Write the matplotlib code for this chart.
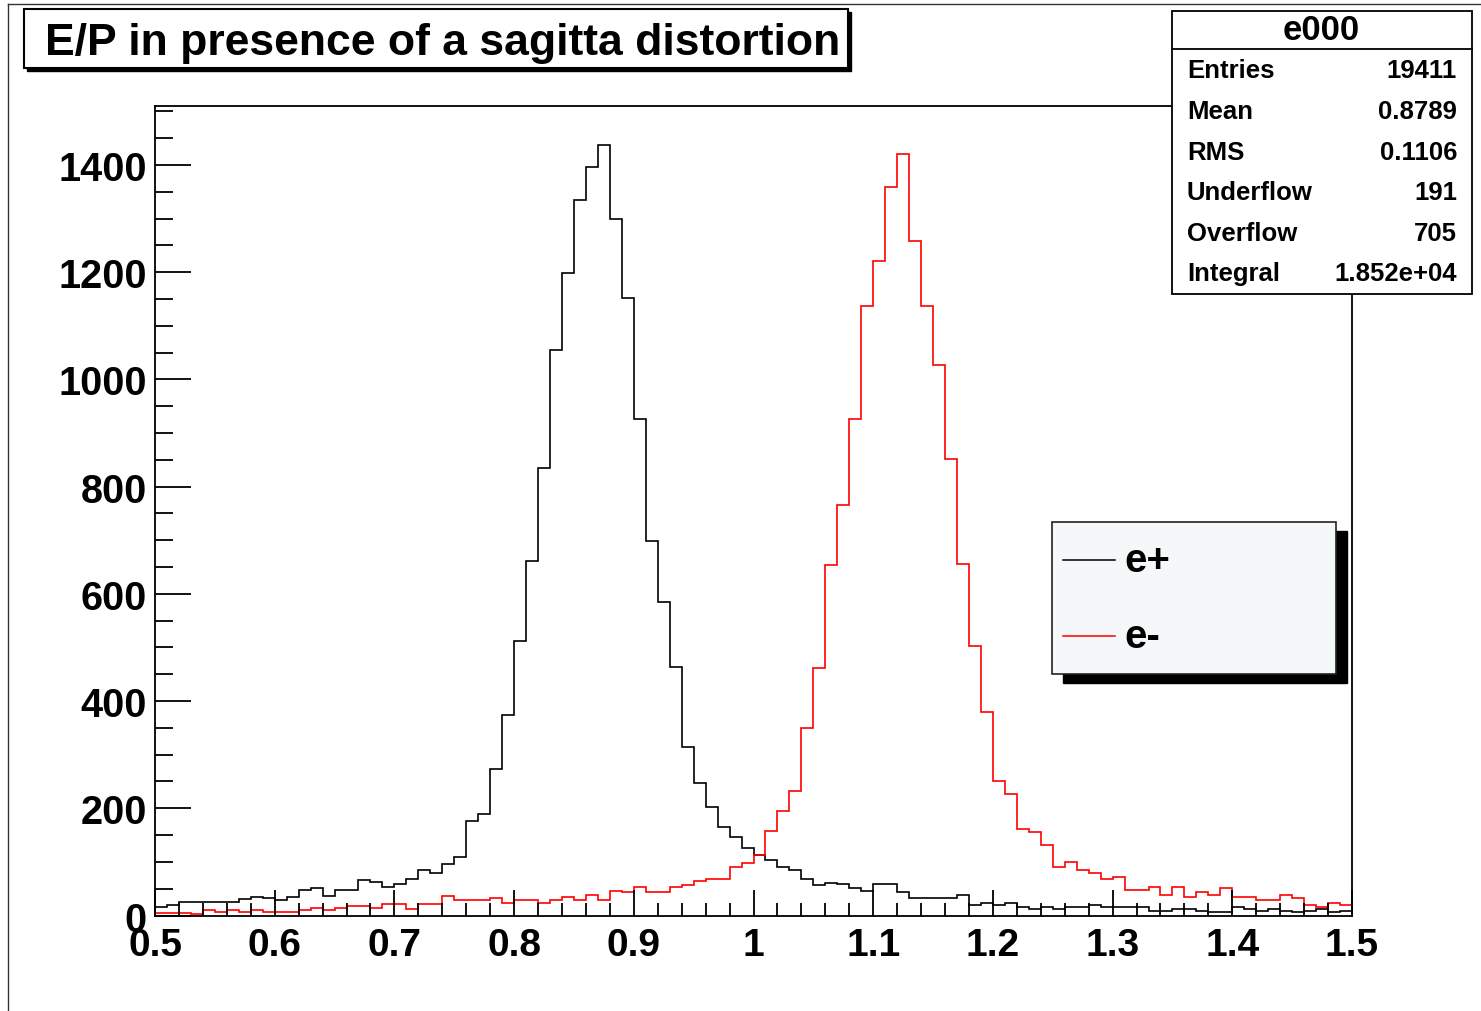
import numpy as np
import matplotlib.pyplot as plt
from matplotlib.patches import Rectangle
from matplotlib.lines import Line2D
from matplotlib.ticker import MultipleLocator, FuncFormatter

# E/P histogram, 100 bins from 0.5 to 1.5
bin_lo, bin_hi, n_bins = 0.5, 1.5, 100

e_plus = [
    16, 20, 25, 25, 25, 25, 25, 31, 35, 32,
    28, 35, 47, 51, 36, 47, 47, 66, 62, 54,
    58, 69, 84, 80, 96, 110, 177, 189, 274, 374,
    512, 662, 834, 1054, 1199, 1334, 1397, 1438, 1300, 1151,
    927, 699, 584, 464, 315, 248, 203, 166, 147, 125,
    113, 104, 91, 85, 69, 57, 61, 59, 51, 46,
    59, 59, 43, 32, 32, 32, 33, 39, 20, 24,
    20, 24, 16, 13, 16, 13, 16, 16, 20, 16,
    16, 16, 16, 9, 9, 13, 13, 9, 6, 6,
    16, 13, 9, 13, 9, 6, 9, 13, 6, 9,
]

e_minus = [
    5, 5, 5, 2, 10, 6, 10, 6, 10, 6,
    6, 6, 10, 14, 10, 14, 17, 17, 14, 21,
    21, 13, 21, 21, 36, 28, 28, 28, 32, 24,
    28, 28, 24, 28, 35, 28, 39, 28, 46, 43,
    54, 43, 43, 54, 57, 65, 69, 69, 91, 98,
    113, 158, 195, 233, 349, 461, 654, 766, 927, 1136,
    1221, 1359, 1420, 1259, 1137, 1027, 852, 655, 502, 379,
    250, 226, 162, 156, 132, 91, 99, 85, 80, 69,
    72, 47, 47, 54, 39, 54, 35, 43, 39, 51,
    35, 35, 28, 28, 39, 33, 20, 16, 24, 20,
]

legend_labels = ["e+", "e-"]
hist_colors = ["black", "#ff0000"]

stats_title = "e000"
stats_names = ["Entries", "Mean", "RMS", "Underflow", "Overflow", "Integral"]
stats_values = ["19411", "0.8789", "0.1106", "191", "705", "1.852e+04"]

title = "E/P in presence of a sagitta distortion"

W, H = 1481, 1012
FONT = "Liberation Sans"


def fx(x):
    return x / W


def fy(y):
    return 1 - y / H


fig = plt.figure(figsize=(W / 100, H / 100), dpi=100)
fig.patch.set_facecolor("white")

# canvas border lines
fig.add_artist(Line2D([fx(8), fx(8)], [fy(5), fy(1012)], color="#333333", lw=1))
fig.add_artist(Line2D([fx(8), fx(1481)], [fy(5), fy(5)], color="#333333", lw=1))

ax = fig.add_axes([fx(155), fy(916.5), fx(1352) - fx(155), fy(107) - fy(916.5)])

edges = np.linspace(bin_lo, bin_hi, n_bins + 1)
for vals, col in zip([e_plus, e_minus], hist_colors):
    ax.stairs(vals, edges, color=col, linewidth=1.2, baseline=None)

ax.set_xlim(bin_lo, bin_hi)
ax.set_ylim(0, 1.05 * max(max(e_plus), max(e_minus)))

for s in ax.spines.values():
    s.set_linewidth(1.3)

ax.xaxis.set_major_locator(MultipleLocator(0.1))
ax.xaxis.set_minor_locator(MultipleLocator(0.02))
ax.yaxis.set_major_locator(MultipleLocator(200))
ax.yaxis.set_minor_locator(MultipleLocator(50))
ax.xaxis.set_major_formatter(FuncFormatter(lambda v, p: "%g" % round(v, 2)))
ax.yaxis.set_major_formatter(FuncFormatter(lambda v, p: "%d" % v))

ax.tick_params(axis="x", which="major", direction="in", length=19, width=1.3,
               pad=8, labelsize=28)
ax.tick_params(axis="x", which="minor", direction="in", length=9.5, width=1.3)
ax.tick_params(axis="y", which="major", direction="in", length=26, width=1.3,
               pad=6, labelsize=28.5)
ax.tick_params(axis="y", which="minor", direction="in", length=13, width=1.3)
for lab in ax.get_xticklabels() + ax.get_yticklabels():
    lab.set_fontfamily(FONT)
    lab.set_fontweight("bold")

# title box with shadow
fig.add_artist(Rectangle((fx(27), fy(72)), fx(851) - fx(27), fy(13) - fy(72),
                         facecolor="black", edgecolor="black", lw=1))
fig.add_artist(Rectangle((fx(24), fy(69)), fx(848) - fx(24), fy(10) - fy(69),
                         facecolor="white", edgecolor="black", lw=1.5))
fig.text(fx(443), fy(43), title, ha="center", va="center", fontsize=32,
         fontweight="bold", family=FONT)

# stats box
fig.add_artist(Rectangle((fx(1172), fy(295)), fx(1472) - fx(1172), fy(12) - fy(295),
                         facecolor="white", edgecolor="black", lw=1.3))
fig.add_artist(Line2D([fx(1172), fx(1472)], [fy(50), fy(50)], color="black", lw=1.3))
fig.text(fx(1321), fy(30), stats_title, ha="center", va="center", fontsize=25,
         fontweight="bold", family=FONT)
row_y = [71, 112, 153, 193, 234, 274]
for name, val, yy in zip(stats_names, stats_values, row_y):
    fig.text(fx(1187), fy(yy), name, ha="left", va="center", fontsize=18.5,
             fontweight="bold", family=FONT)
    fig.text(fx(1457), fy(yy), val, ha="right", va="center", fontsize=18.5,
             fontweight="bold", family=FONT)

# legend with shadow
fig.add_artist(Rectangle((fx(1063), fy(684)), fx(1347) - fx(1063), fy(532) - fy(684),
                         facecolor="black", edgecolor="black", lw=1))
fig.add_artist(Rectangle((fx(1052), fy(675)), fx(1336) - fx(1052), fy(523) - fy(675),
                         facecolor="#f5f8f8", edgecolor="#222222", lw=1.2))
for lab, col, yy in zip(legend_labels, hist_colors, [561, 637]):
    fig.add_artist(Line2D([fx(1063), fx(1115)], [fy(yy), fy(yy)], color=col, lw=1.1))
    fig.text(fx(1124), fy(yy), lab, ha="left", va="center", fontsize=29,
             fontweight="bold", family=FONT)

fig.savefig("out.png", dpi=100)
